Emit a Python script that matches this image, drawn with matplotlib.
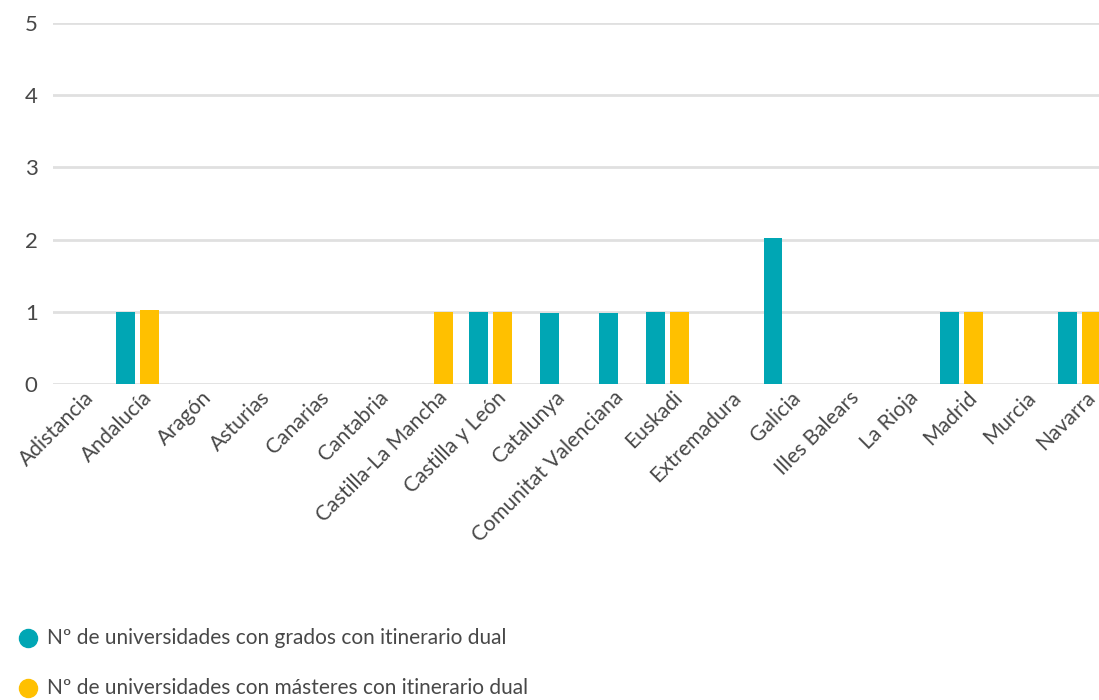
import matplotlib
matplotlib.use("Agg")
import matplotlib.pyplot as plt
from matplotlib.lines import Line2D
import matplotlib.transforms as mtransforms

categories = ["Adistancia", "Andalucía", "Aragón", "Asturias", "Canarias", "Cantabria",
              "Castilla-La Mancha", "Castilla y León", "Catalunya", "Comunitat Valenciana",
              "Euskadi", "Extremadura", "Galicia", "Illes Balears", "La Rioja", "Madrid",
              "Murcia", "Navarra"]
grados = [None, 1.0, None, None, None, None, 0, 1.0, 0.99, 0.99, 1.0, None, 2.02, None, None, 1.0, None, 1.0]
masteres = [None, 1.03, None, None, None, None, 1.0, 1.0, None, None, 1.0, None, 0, None, None, 1.0, None, 1.0]
series_names = ["Nº de universidades con grados con itinerario dual",
                "Nº de universidades con másteres con itinerario dual"]
colors = ["#00A6B4", "#FFC000"]
yticks = [0, 1, 2, 3, 4, 5]

plt.rcParams['font.family'] = ['Lato', 'DejaVu Sans']
W, H = 1099, 700
fig = plt.figure(figsize=(W / 100, H / 100), dpi=100)
ax = fig.add_axes([53 / W, (H - 384) / H, (1099 - 53) / W, (384 - 23) / H])

bw = 0.32
off = 0.205
for i in range(len(categories)):
    g, m = grados[i], masteres[i]
    if g is not None and m is None:
        ax.bar(i, g, width=bw, color=colors[0], zorder=3)
    elif m is not None and g is None:
        ax.bar(i, m, width=bw, color=colors[1], zorder=3)
    elif g is not None and m is not None:
        if g:
            ax.bar(i - off, g, width=bw, color=colors[0], zorder=3)
        if m:
            ax.bar(i + off, m, width=bw, color=colors[1], zorder=3)

txtc = "#484848"
ax.set_xlim(-0.43, 17.33)
ax.set_ylim(0, 5)
ax.set_yticks(yticks)
ax.set_yticklabels([str(v) for v in yticks], fontsize=16, color=txtc)
for s in ax.spines.values():
    s.set_visible(False)
ax.grid(axis='y', color="#e0e0e0", linewidth=2, zorder=0)
ax.tick_params(axis='y', length=0, pad=11)
ax.tick_params(axis='x', length=0, pad=4)
ax.set_xticks(range(len(categories)))
ax.set_xticklabels(categories, rotation=45, ha='right', va='top', rotation_mode='anchor',
                   fontsize=15.2, color=txtc)
for lab in ax.get_xticklabels():
    lab.set_transform(lab.get_transform() + mtransforms.ScaledTranslation(0.05, 0.02, fig.dpi_scale_trans))

ys = [638, 688]
for name, c, y in zip(series_names, colors, ys):
    fig.add_artist(Line2D([28 / W], [(H - y) / H], marker='o', markersize=13, color=c,
                          linestyle='none', transform=fig.transFigure))
    fig.text(47 / W, (H - y) / H, name, fontsize=15, color=txtc, va='center', ha='left')

fig.savefig("out.png", dpi=100)
